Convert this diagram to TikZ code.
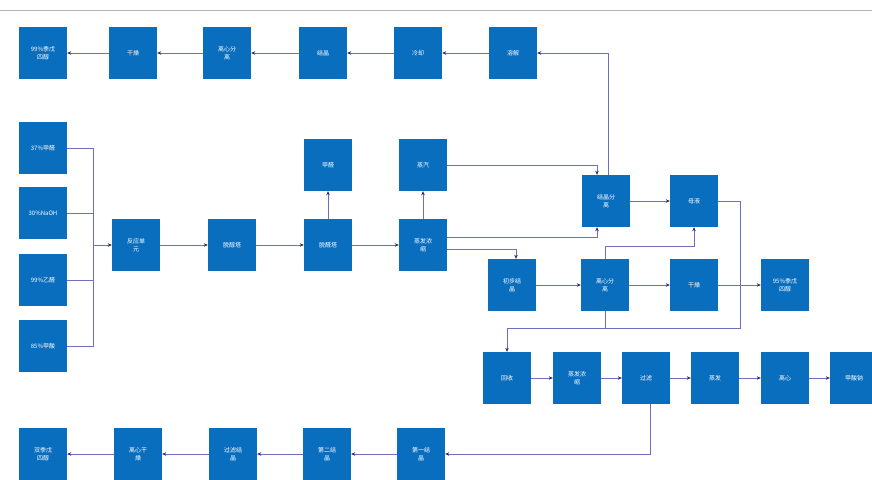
\documentclass[tikz,border=0pt]{standalone}
\usepackage{fontspec}
\newfontfamily\cjk{Noto Sans CJK SC}
\usetikzlibrary{arrows.meta}

\definecolor{boxblue}{RGB}{10,110,190}
\definecolor{linepurple}{RGB}{110,110,190}
\definecolor{tipnavy}{RGB}{40,40,120}

\tikzset{
  stepbox/.style={draw=none, fill=boxblue, minimum width=48pt, minimum height=52pt,
    inner sep=1pt, align=center, text=white, font=\cjk\fontsize{6}{8}\selectfont},
  flow/.style={draw=linepurple, line width=0.6pt},
  arr/.style={flow, -{Stealth[length=4pt,width=3.5pt,color=tipnavy]}}
}

\begin{document}
\begin{tikzpicture}[x=1pt, y=-1pt]
      \useasboundingbox (0,0) rectangle (872,479);
      \fill[white] (0,0) rectangle (872,479);
      \draw[gray!60, line width=0.8pt] (0,10) -- (872,10);

      % top row
      \node[stepbox] (p99) at (43,53) {99\%季戊\\四醇};
      \node[stepbox] (gz1) at (133,53) {干燥};
      \node[stepbox] (lx1) at (227,53) {离心分\\离};
      \node[stepbox] (jj) at (323,53) {结晶};
      \node[stepbox] (lq) at (418,53) {冷却};
      \node[stepbox] (rj) at (513,53) {溶解};

      % feeds
      \node[stepbox] (in1) at (43,148) {37\%甲醛};
      \node[stepbox] (in2) at (43,213) {30\%NaOH};
      \node[stepbox] (in3) at (43,280) {99\%乙醛};
      \node[stepbox] (in4) at (43,346) {85\%甲酸};
      \coordinate (jn) at (93,245);

      % main line
      \node[stepbox] (fy) at (136,245) {反应单\\元};
      \node[stepbox] (tq1) at (232,245) {脱醇塔};
      \node[stepbox] (tq2) at (328,245) {脱醛塔};
      \node[stepbox] (jq) at (328,165) {甲醛};
      \node[stepbox] (zf) at (423,245) {蒸发浓\\缩};
      \node[stepbox] (zq) at (423,165) {蒸汽};
      \node[stepbox] (jf) at (606,201) {结晶分\\离};
      \node[stepbox] (my) at (694,201) {母液};

      % third row
      \node[stepbox] (cb) at (512,285) {初步结\\晶};
      \node[stepbox] (lx2) at (605,285) {离心分\\离};
      \node[stepbox] (gz2) at (694,285) {干燥};
      \node[stepbox] (p95) at (785,285) {95\%季戊\\四醇};
      \coordinate (bend) at (740,328);

      % fourth row
      \node[stepbox] (hs) at (507,378) {回收};
      \node[stepbox] (zf2) at (577,378) {蒸发浓\\缩};
      \node[stepbox] (gl) at (646,378) {过滤};
      \node[stepbox] (zf3) at (715,378) {蒸发};
      \node[stepbox] (lx3) at (785,378) {离心};
      \node[stepbox] (jsn) at (854,378) {甲酸钠};

      % bottom row
      \node[stepbox] (dy1) at (421,454) {第一结\\晶};
      \node[stepbox] (de2) at (327,454) {第二结\\晶};
      \node[stepbox] (gj) at (233,454) {过滤结\\晶};
      \node[stepbox] (lg) at (138,454) {离心干\\燥};
      \node[stepbox] (sj) at (43,454) {双季戊\\四醇};

      % connectors
      \draw[arr] (rj) -- (lq);
      \draw[arr] (lq) -- (jj);
      \draw[arr] (jj) -- (lx1);
      \draw[arr] (lx1) -- (gz1);
      \draw[arr] (gz1) -- (p99);

      \draw[flow] (in1.east) -| (jn);
      \draw[flow] (in2.east) -| (jn);
      \draw[flow] (in3.east) -| (jn);
      \draw[flow] (in4.east) -| (jn);
      \draw[arr] (jn) -- (fy);
      \draw[arr] (fy) -- (tq1);
      \draw[arr] (tq1) -- (tq2);
      \draw[arr] (tq2) -- (zf);
      \draw[arr] (tq2) -- (jq);
      \draw[arr] (zf) -- (zq);
      \draw[arr] (zq.east) -| ([xshift=-9pt]jf.north);
      \draw[arr] ([yshift=8pt]zf.east) -| ([xshift=-9pt]jf.south);
      \draw[arr] ([yshift=-4pt]zf.east) -| ([xshift=4pt]cb.north);
      \draw[arr] ([xshift=2pt]jf.north) |- (rj.east);
      \draw[arr] (jf) -- (my);

      \draw[arr] (cb) -- (lx2);
      \draw[arr] (lx2) -- (gz2);
      \draw[arr] (gz2) -- (p95);
      \draw[arr] (lx2.north) -- ++(0,-13) -| (my.south);
      \draw[arr] (my.east) -| (bend) -| (hs.north);
      \draw[flow] (lx2.south) -- (lx2.south |- bend);

      \draw[arr] (hs) -- (zf2);
      \draw[arr] (zf2) -- (gl);
      \draw[arr] (gl) -- (zf3);
      \draw[arr] (zf3) -- (lx3);
      \draw[arr] (lx3) -- (jsn);
      \draw[arr] ([xshift=4pt]gl.south) |- (dy1.east);

      \draw[arr] (dy1) -- (de2);
      \draw[arr] (de2) -- (gj);
      \draw[arr] (gj) -- (lg);
      \draw[arr] (lg) -- (sj);
\end{tikzpicture}
\end{document}
